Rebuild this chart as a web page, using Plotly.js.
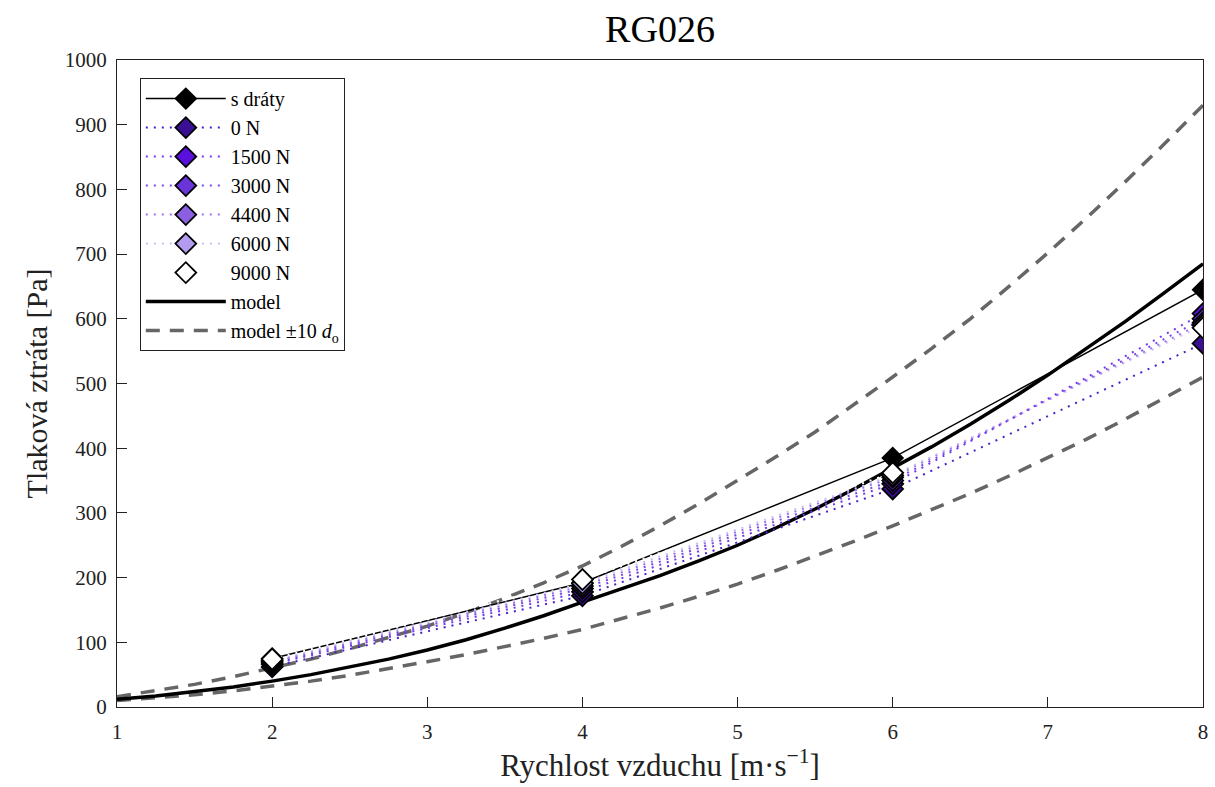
<!DOCTYPE html>
<html>
<head>
<meta charset="utf-8">
<script src="https://cdn.plot.ly/plotly-3.0.1.min.js"></script>
<style>html,body{margin:0;padding:0;background:#fff}#chart{width:1215px;height:787px}</style>
</head>
<body>
<div id="chart"></div>
<script>
// measured speeds
const speeds = [2, 4, 6, 8];
const sDraty = [75, 192, 385, 645];
const n0 = [62, 172, 337, 562];
const n1500 = [66, 178, 345, 608];
const n3000 = [68, 183, 350, 600];
const n4400 = [70, 187, 355, 594];
const n6000 = [72, 191, 358, 590];
const n9000 = [74, 197, 362, 586];

// model curves
const modelX = [1, 1.25, 1.5, 1.75, 2, 2.25, 2.5, 2.75, 3, 3.25, 3.5, 3.75, 4, 4.25, 4.5, 4.75, 5, 5.25, 5.5, 5.75, 6, 6.25, 6.5, 6.75, 7, 7.25, 7.5, 7.75, 8];
const modelY = [12, 17, 24, 31, 40, 50, 62, 74, 88, 104, 122, 141, 162, 182, 203, 226, 250, 277, 306, 337, 369, 402, 437, 474, 513, 554, 596, 640, 685];
const upperY = [16, 25, 35, 47, 60, 74, 90, 107, 125, 146, 168, 192, 218, 248, 280, 314, 350, 387, 425, 467, 510, 554, 600, 650, 702, 756, 812, 870, 930];
const lowerY = [10, 14, 19, 25, 32, 40, 49, 59, 70, 81, 93, 106, 120, 136, 153, 171, 190, 211, 233, 256, 280, 305, 330, 357, 385, 414, 445, 477, 510];

const seriesNames = ['0 N', '1500 N', '3000 N', '4400 N', '6000 N', '9000 N'];
const seriesVals = [n0, n1500, n3000, n4400, n6000, n9000];
const fillColors = ['#3b0f94', '#5a10dc', '#6a34d8', '#8a5fe2', '#b39cf0', '#ffffff'];
const lineColors = ['#4a22c8', '#7438ee', '#7a48e6', '#9b74ec', '#cbbcf6', '#ffffff'];

const traces = [];
const dash = {color: '#666666', width: 3.5, dash: '14px,10px'};
traces.push({x: modelX, y: upperY, mode: 'lines', name: 'model ±10 <i>d</i><sub>o</sub>', line: dash, legendrank: 1009});
traces.push({x: modelX, y: lowerY, mode: 'lines', showlegend: false, line: dash});
traces.push({x: modelX, y: modelY, mode: 'lines', name: 'model', line: {color: '#000', width: 3.5}, legendrank: 1008});
traces.push({x: speeds, y: sDraty, mode: 'lines+markers', name: 's dráty', legendrank: 1001,
  line: {color: '#000', width: 1.5},
  marker: {symbol: 'diamond', size: 16, color: '#000', line: {color: '#000', width: 1.5}}});
seriesNames.forEach((nm, i) => {
  traces.push({x: speeds, y: seriesVals[i], mode: 'lines+markers', name: nm, legendrank: 1002 + i,
    line: {color: lineColors[i], width: 2, dash: '2px,6px'},
    marker: {symbol: 'diamond', size: 16, color: fillColors[i], line: {color: '#000', width: 1.8}}});
});

const fam = 'Liberation Serif';
const layout = {
  width: 1215, height: 787,
  margin: {l: 117, r: 12, t: 60, b: 80},
  paper_bgcolor: '#fff', plot_bgcolor: '#fff',
  font: {family: fam, size: 21, color: '#222'},
  title: {text: 'RG026', x: 0.5, xref: 'paper', xanchor: 'center', y: 0.964, yanchor: 'middle', font: {family: fam, size: 38, color: '#000'}},
  xaxis: {range: [1, 8], tickvals: [1,2,3,4,5,6,7,8], showgrid: false, zeroline: false,
    showline: true, mirror: true, linecolor: '#222', linewidth: 1, ticks: 'inside', ticklen: 10, tickcolor: '#222',
    ticklabelstandoff: 6,
    tickfont: {family: fam, size: 21, color: '#222'},
    title: {text: 'Rychlost vzduchu [m·s<sup>−1</sup>]', standoff: 8, font: {family: fam, size: 31, color: '#222'}}},
  yaxis: {range: [0, 1000], dtick: 100, showgrid: false, zeroline: false,
    showline: true, mirror: true, linecolor: '#222', linewidth: 1, ticks: 'inside', ticklen: 10, tickcolor: '#222',
    ticklabelstandoff: 5,
    tickfont: {family: fam, size: 21, color: '#222'},
    title: {text: 'Tlaková ztráta [Pa]', standoff: 8, font: {family: fam, size: 30, color: '#222'}}},
  legend: {x: 0.021, y: 0.972, xanchor: 'left', yanchor: 'top', bgcolor: '#fff', bordercolor: '#222', borderwidth: 1,
    font: {family: fam, size: 20, color: '#000'}, tracegroupgap: 0, itemwidth: 80},
  showlegend: true
};
Plotly.newPlot('chart', traces, layout, {displayModeBar: false, staticPlot: true});
</script>
</body>
</html>
